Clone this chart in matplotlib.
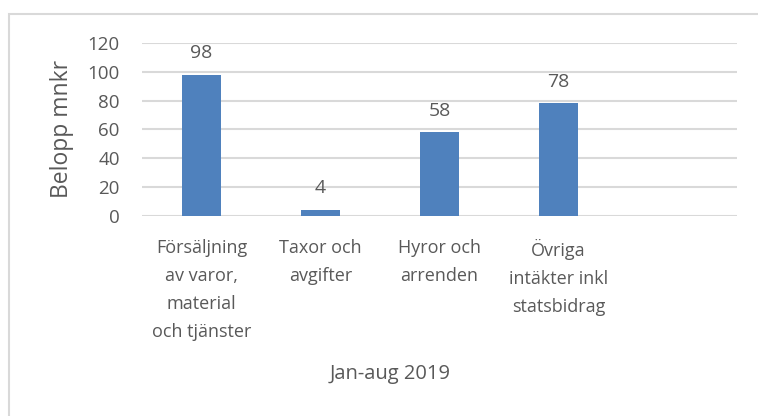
import matplotlib.pyplot as plt
from matplotlib.patches import Rectangle

plt.rcParams['font.family'] = ['Open Sans', 'DejaVu Sans']

# data
categories = ["Försäljning\nav varor,\nmaterial\noch tjänster",
              "Taxor och\navgifter",
              "Hyror och\narrenden",
              "Övriga\nintäkter inkl\nstatsbidrag",
              ""]
values = [98, 4, 58, 78, None]
yticks = [0, 20, 40, 60, 80, 100, 120]

txt = '#595959'
bar_col = '#4F81BD'
grid_col = '#D9D9D9'

fig = plt.figure(figsize=(7.58, 4.16), dpi=100)
# outer chart border (only top and left visible in the crop)
fig.patches.append(Rectangle((9/758, -0.1), 1.2, 1 - 14/416 + 0.1, transform=fig.transFigure,
                             fill=False, edgecolor=grid_col, linewidth=1.5))

ax = fig.add_axes([142/758, 1 - 215.7/416, (737 - 142)/758, (215.7 - 43)/416])

xs = list(range(len(categories)))
for x, v in zip(xs, values):
    if v is None:
        continue
    ax.bar(x, v, width=0.32, color=bar_col, zorder=3)
    ax.annotate(str(v), (x, v), xytext=(0, 12), textcoords='offset points',
                ha='center', va='baseline', fontsize=14, color=txt)

ax.set_xlim(-0.5, len(categories) - 0.5)
ax.set_ylim(0, 120)
ax.set_yticks(yticks)
ax.set_xticks(xs)
ax.set_xticklabels(categories, fontsize=13, color=txt, linespacing=1.7, va='top')
ax.tick_params(axis='y', length=0, labelsize=13.5, labelcolor=txt, pad=16)
ax.tick_params(axis='x', length=0, pad=17)
ax.yaxis.grid(True, color=grid_col, linewidth=1.5, zorder=0)
ax.set_axisbelow(True)
for s in ax.spines.values():
    s.set_visible(False)

ax.set_ylabel("Belopp mnkr", fontsize=16.5, color=txt, labelpad=10)
fig.text(390/758, 1 - 374/416, "Jan-aug 2019", ha='center', va='center', fontsize=14.5, color=txt)

fig.savefig('out.png', dpi=100)
